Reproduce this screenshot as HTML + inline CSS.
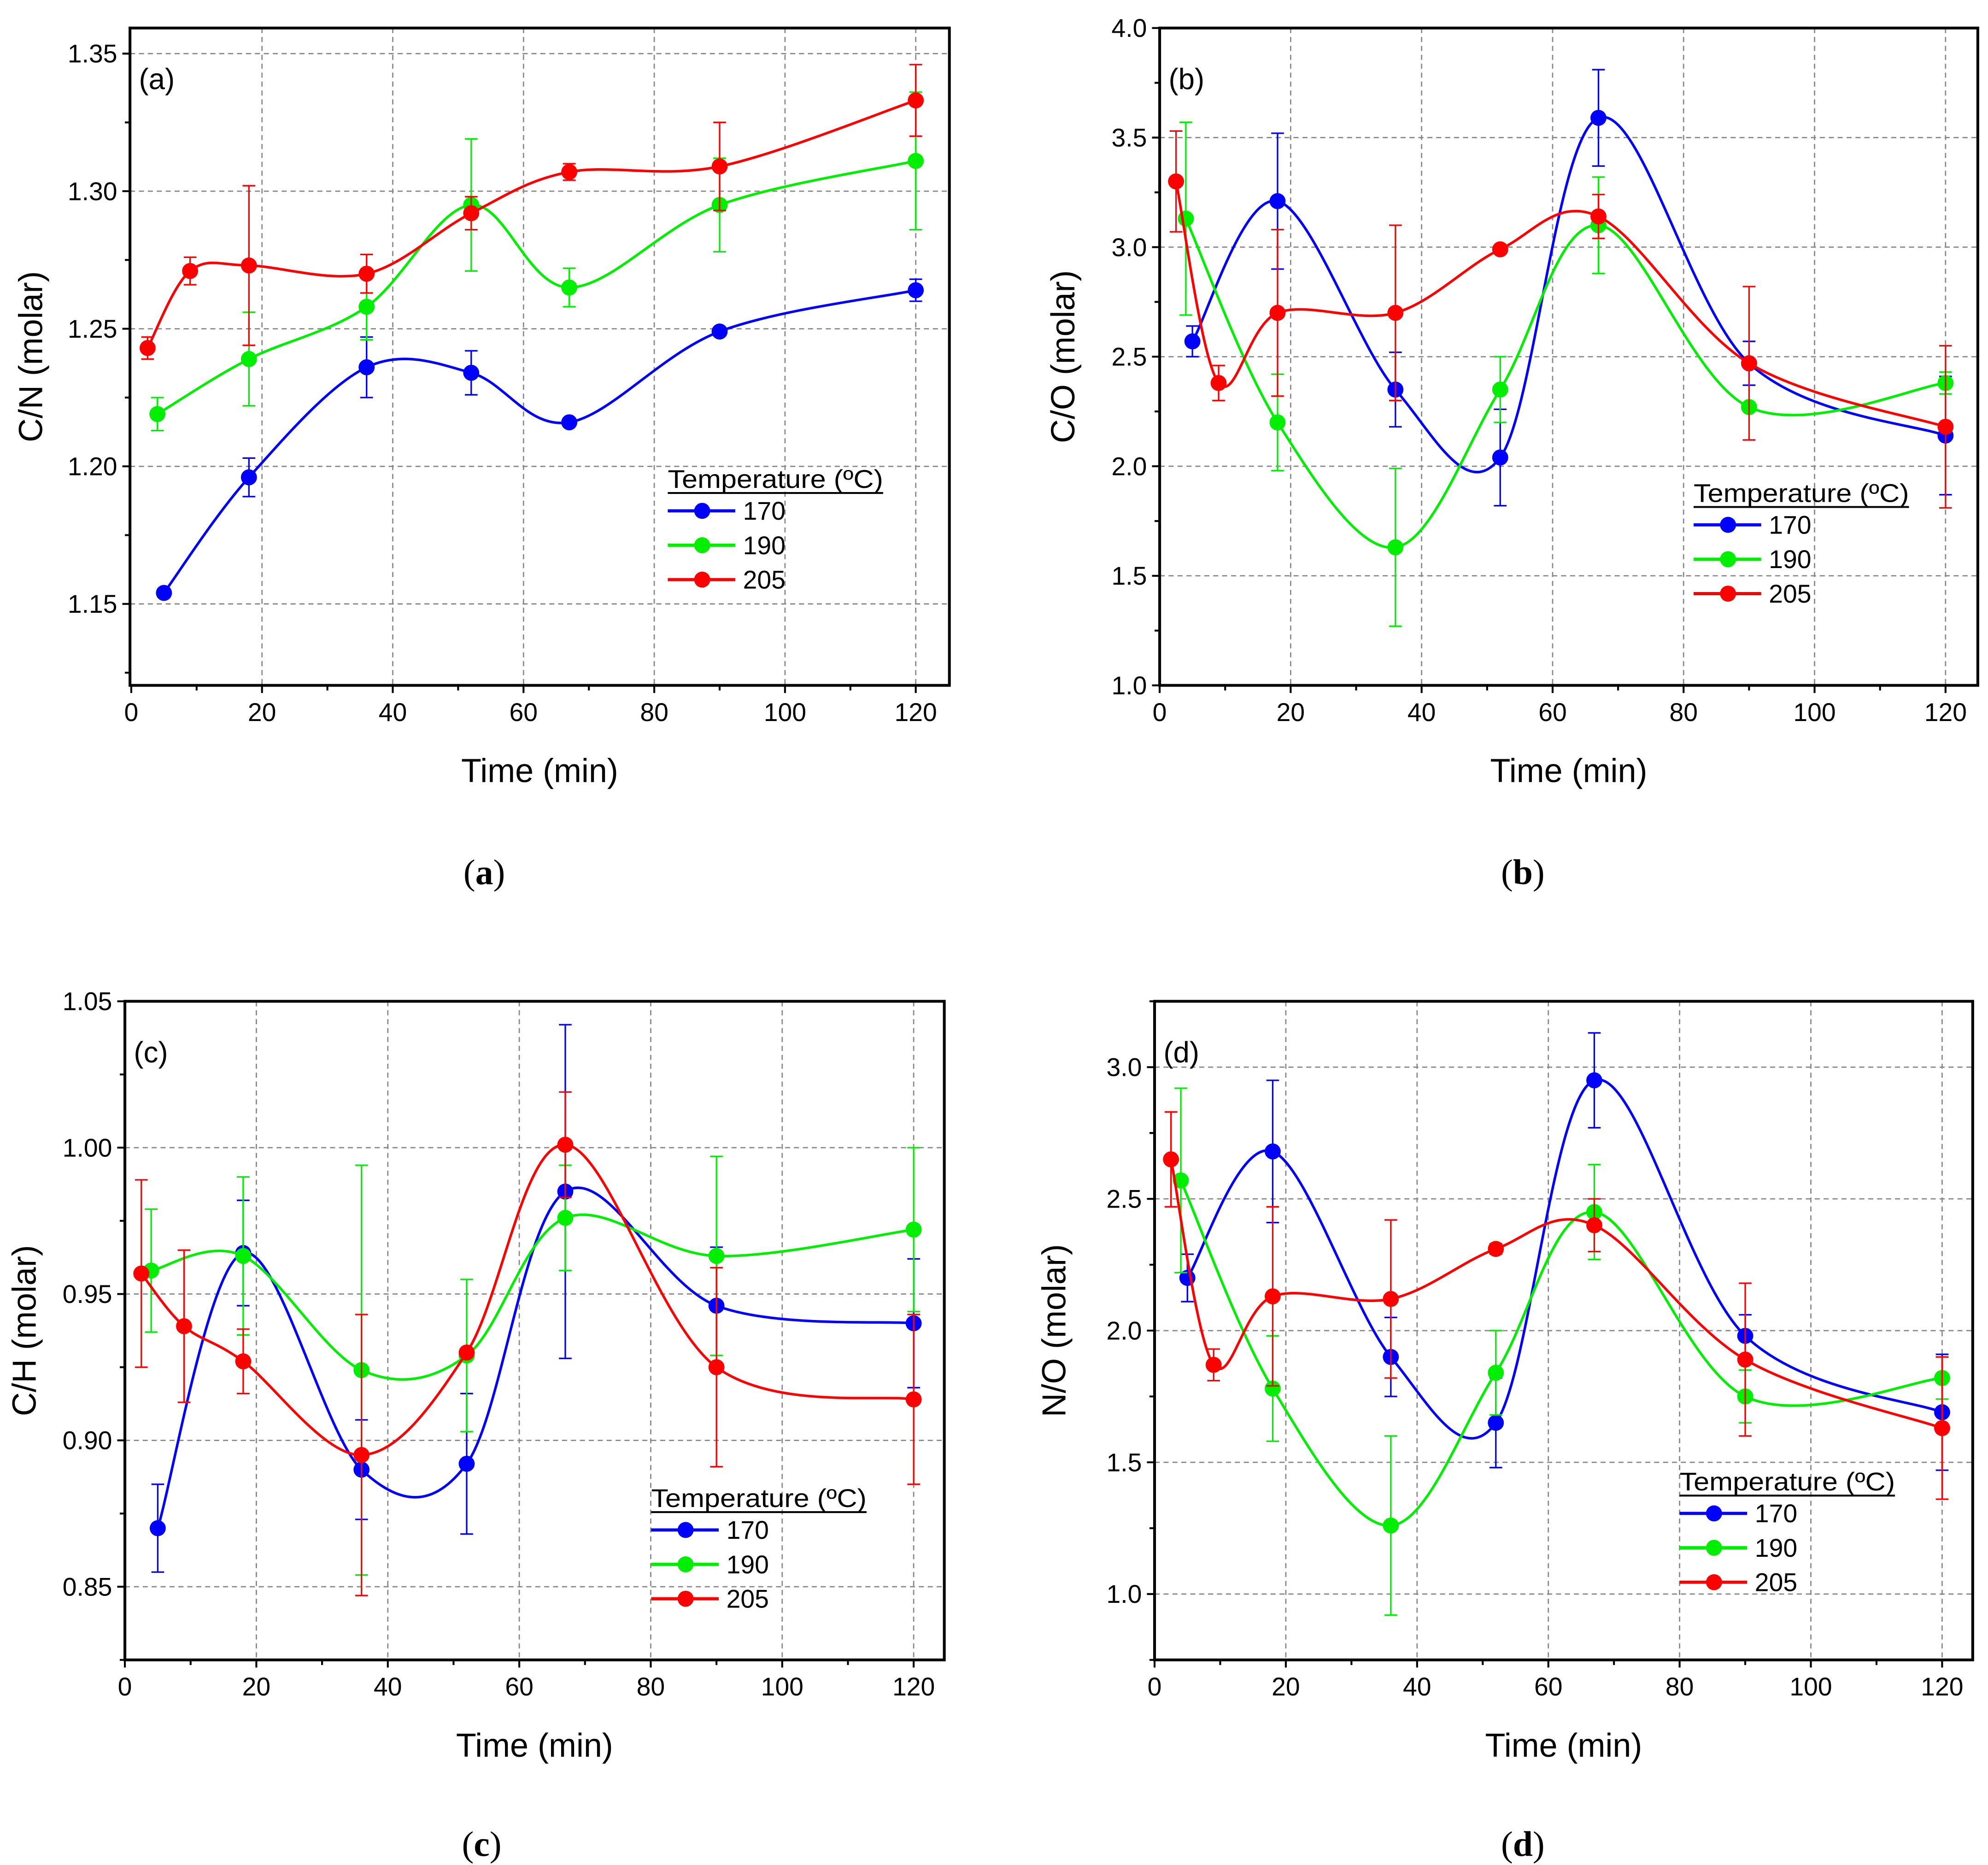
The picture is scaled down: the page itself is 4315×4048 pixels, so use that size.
<!DOCTYPE html>
<html><head><meta charset="utf-8"><style>
html,body{margin:0;padding:0;background:#fff;}
svg{display:block;}
text{font-family:"Liberation Sans",sans-serif;}
</style></head><body>
<svg id="chart" width="4315" height="4048" viewBox="0 0 1560 1464" preserveAspectRatio="none" xmlns="http://www.w3.org/2000/svg"></svg>
<script>
const xTickLabels = ["0","20","40","60","80","100","120"];
const xTickVals = [0,20,40,60,80,100,120];
const seriesNames = ["170","190","205"];
const seriesColors = ["#0000ff","#00ee00","#ff0000"];

// Panel (a) C/N
const aT170=[5,18,36,52,67,90,120], aV170=[1.154,1.196,1.236,1.234,1.216,1.249,1.264], aE170=[0,0.007,0.011,0.008,0,0,0.004];
const aT190=[4,18,36,52,67,90,120], aV190=[1.219,1.239,1.258,1.295,1.265,1.295,1.311], aE190=[0.006,0.017,0.012,0.024,0.007,0.017,0.025];
const aT205=[2.5,9,18,36,52,67,90,120], aV205=[1.243,1.271,1.273,1.270,1.292,1.307,1.309,1.333], aE205=[0.004,0.005,0.029,0.007,0.006,0.003,0.016,0.013];
const aYTicks=[1.15,1.20,1.25,1.30,1.35], aYLabels=["1.15","1.20","1.25","1.30","1.35"];
// Panel (b) C/O
const bT170=[5,18,36,52,67,90,120], bV170=[2.57,3.21,2.35,2.04,3.59,2.47,2.14], bE170=[0.07,0.31,0.17,0.22,0.22,0.1,0.27];
const bT190=[4,18,36,52,67,90,120], bV190=[3.13,2.20,1.63,2.35,3.10,2.27,2.38], bE190=[0.44,0.22,0.36,0.15,0.22,0,0.05];
const bT205=[2.5,9,18,36,52,67,90,120], bV205=[3.30,2.38,2.70,2.70,2.99,3.14,2.47,2.18], bE205=[0.23,0.08,0.38,0.40,0,0.1,0.35,0.37];
const bYTicks=[1.0,1.5,2.0,2.5,3.0,3.5,4.0], bYLabels=["1.0","1.5","2.0","2.5","3.0","3.5","4.0"];
// Panel (c) C/H
const cT170=[5,18,36,52,67,90,120], cV170=[0.870,0.964,0.890,0.892,0.985,0.946,0.940], cE170=[0.015,0.018,0.017,0.024,0.057,0.02,0.022];
const cT190=[4,18,36,52,67,90,120], cV190=[0.958,0.963,0.924,0.929,0.976,0.963,0.972], cE190=[0.021,0.027,0.070,0.026,0.018,0.034,0.028];
const cT205=[2.5,9,18,36,52,67,90,120], cV205=[0.957,0.939,0.927,0.895,0.930,1.001,0.925,0.914], cE205=[0.032,0.026,0.011,0.048,0,0.018,0.034,0.029];
const cYTicks=[0.85,0.90,0.95,1.00,1.05], cYLabels=["0.85","0.90","0.95","1.00","1.05"];
// Panel (d) N/O
const dT170=[5,18,36,52,67,90,120], dV170=[2.20,2.68,1.90,1.65,2.95,1.98,1.69], dE170=[0.09,0.27,0.15,0.17,0.18,0.08,0.22];
const dT190=[4,18,36,52,67,90,120], dV190=[2.57,1.78,1.26,1.84,2.45,1.75,1.82], dE190=[0.35,0.2,0.34,0.16,0.18,0.1,0.08];
const dT205=[2.5,9,18,36,52,67,90,120], dV205=[2.65,1.87,2.13,2.12,2.31,2.40,1.89,1.63], dE205=[0.18,0.06,0.34,0.30,0.02,0.1,0.29,0.27];
const dYTicks=[1.0,1.5,2.0,2.5,3.0], dYLabels=["1.0","1.5","2.0","2.5","3.0"];

const NS="http://www.w3.org/2000/svg";
const svg=document.getElementById('chart');
function mk(tag,attrs,parent){const e=document.createElementNS(NS,tag);for(const k in attrs)e.setAttribute(k,attrs[k]);(parent||svg).appendChild(e);return e;}

const panels=[
 {id:'a',L:102,R:745,T:22,B:538,x0:103,xs:5.13,ymin:1.1204,ymax:1.3593,yt:aYTicks,yl:aYLabels,minor:0.025,ytitle:'C/N (molar)',yx:25,letter:'(a)',
  s:[[aT170,aV170,aE170],[aT190,aV190,aE190],[aT205,aV205,aE205]],leg:[524,375],cap:[380,685]},
 {id:'b',L:910,R:1552,T:22,B:538,x0:910,xs:5.139,ymin:1.0,ymax:4.0,yt:bYTicks,yl:bYLabels,minor:0.25,ytitle:'C/O (molar)',yx:835,letter:'(b)',
  s:[[bT170,bV170,bE170],[bT190,bV190,bE190],[bT205,bV205,bE205]],leg:[1329,386],cap:[1195,685]},
 {id:'c',L:98,R:741,T:786,B:1303,x0:98,xs:5.158,ymin:0.825,ymax:1.05,yt:cYTicks,yl:cYLabels,minor:0.025,ytitle:'C/H (molar)',yx:20,letter:'(c)',
  s:[[cT170,cV170,cE170],[cT190,cV190,cE190],[cT205,cV205,cE205]],leg:[511,1175],cap:[378,1448]},
 {id:'d',L:906,R:1548,T:786,B:1303,x0:906,xs:5.15,ymin:0.75,ymax:3.25,yt:dYTicks,yl:dYLabels,minor:0.25,ytitle:'N/O (molar)',yx:828,letter:'(d)',
  s:[[dT170,dV170,dE170],[dT190,dV190,dE190],[dT205,dV205,dE205]],leg:[1318,1162],cap:[1195,1448]}
];

function spline(pts){
  let d='M'+pts[0][0]+','+pts[0][1];
  for(let i=0;i<pts.length-1;i++){
    const p0=pts[i-1]||pts[i],p1=pts[i],p2=pts[i+1],p3=pts[i+2]||p2;
    const c1=[p1[0]+(p2[0]-p0[0])/6,p1[1]+(p2[1]-p0[1])/6];
    const c2=[p2[0]-(p3[0]-p1[0])/6,p2[1]-(p3[1]-p1[1])/6];
    d+=' C'+c1[0]+','+c1[1]+' '+c2[0]+','+c2[1]+' '+p2[0]+','+p2[1];
  }
  return d;
}

panels.forEach(P=>{
  const g=mk('g',{});
  
  
  const X=t=>P.x0+t*P.xs;
  const Y=v=>P.B-(v-P.ymin)/(P.ymax-P.ymin)*(P.B-P.T);
  xTickVals.forEach(t=>{ if(t>0){const l=mk('line',{x1:X(t),x2:X(t),y1:P.T,y2:P.B,stroke:'#888','stroke-width':1,'stroke-dasharray':'4,3'},g);
    
    }});
  P.yt.forEach(v=>{const l=mk('line',{x1:P.L,x2:P.R,y1:Y(v),y2:Y(v),stroke:'#888','stroke-width':1,'stroke-dasharray':'4,3'},g);
    
    });
  const fr=mk('rect',{x:P.L,y:P.T,width:P.R-P.L,height:P.B-P.T,fill:'none',stroke:'#000','stroke-width':2.2},g);
  
  
  for(let t=0;t<=120;t+=10){ const major=t%20===0;
    mk('line',{x1:X(t),x2:X(t),y1:P.B,y2:P.B+(major?6:4),stroke:'#000','stroke-width':1.5},g);}
  xTickVals.forEach((t,i)=>{const tx=mk('text',{x:X(t),y:P.B+28,'font-size':20,'text-anchor':'middle'},g);tx.textContent=xTickLabels[i];
    
    });
  for(let v=P.yt[0]-P.minor*4;v<=P.ymax+1e-9;v+=P.minor){ if(v<P.ymin-1e-9)continue;
    const major=P.yt.some(m=>Math.abs(m-v)<1e-6);
    mk('line',{x1:P.L-(major?6:4),x2:P.L,y1:Y(v),y2:Y(v),stroke:'#000','stroke-width':1.5},g);}
  P.yt.forEach((v,i)=>{const tx=mk('text',{x:P.L-10,y:Y(v)+7,'font-size':20,'text-anchor':'end'},g);tx.textContent=P.yl[i];
    
    });
  const xt=mk('text',{x:(P.L+P.R)/2,y:P.B+76,'font-size':26,'text-anchor':'middle'},g);xt.textContent='Time (min)';
  
  
  const yc=(P.T+P.B)/2;
  const yt=mk('text',{x:P.yx+8,y:yc,'font-size':26,'text-anchor':'middle',transform:'rotate(-90 '+(P.yx+8)+' '+yc+')'},g);yt.textContent=P.ytitle;
  
  
  const lt=mk('text',{x:P.L+7,y:P.T+48,'font-size':23},g);lt.textContent=P.letter;
  
  
  const cap=mk('text',{x:P.cap[0],y:P.cap[1]+9,'font-size':28,'text-anchor':'middle',style:'font-family:"Liberation Serif",serif'},g);
  cap.innerHTML='(<tspan font-weight="bold">'+P.id+'</tspan>)';
  
  
  P.s.forEach((S,si)=>{
    const [T,V,E]=S; const col=seriesColors[si];
    const sg=mk('g',{},g);
    
    
    const pts=T.map((t,i)=>[X(t),Y(V[i])]);
    mk('path',{d:spline(pts),fill:'none',stroke:col,'stroke-width':2},sg);
    T.forEach((t,i)=>{
      if(E[i]>0){const x=X(t),y1=Y(V[i]+E[i]),y2=Y(V[i]-E[i]);
        const eb=mk('path',{d:`M${x},${y1}V${y2}M${x-5},${y1}H${x+5}M${x-5},${y2}H${x+5}`,stroke:col,'stroke-width':1.2,fill:'none'},sg);
        
        }
      const c=mk('circle',{cx:X(t),cy:Y(V[i]),r:6.3,fill:col},sg);
      
      
    });
  });
  const lg=mk('g',{},g);
  
  
  const [lx,ly]=P.leg;
  const tt=mk('text',{x:lx,y:ly+8,'font-size':20,textLength:169,lengthAdjust:'spacingAndGlyphs'},lg);tt.textContent='Temperature (ºC)';
  mk('line',{x1:lx,x2:lx+169,y1:ly+12,y2:ly+12,stroke:'#000','stroke-width':1.5},lg);
  seriesNames.forEach((n,i)=>{
    const yy=ly+26+27*i;
    const e=mk('g',{},lg);
    
    
    mk('line',{x1:lx,x2:lx+53,y1:yy,y2:yy,stroke:seriesColors[i],'stroke-width':2.5},e);
    mk('circle',{cx:lx+27,cy:yy,r:6.3,fill:seriesColors[i]},e);
    const t=mk('text',{x:lx+59,y:yy+7,'font-size':20},e);t.textContent=n;
  });
});
</script>
</body></html>
